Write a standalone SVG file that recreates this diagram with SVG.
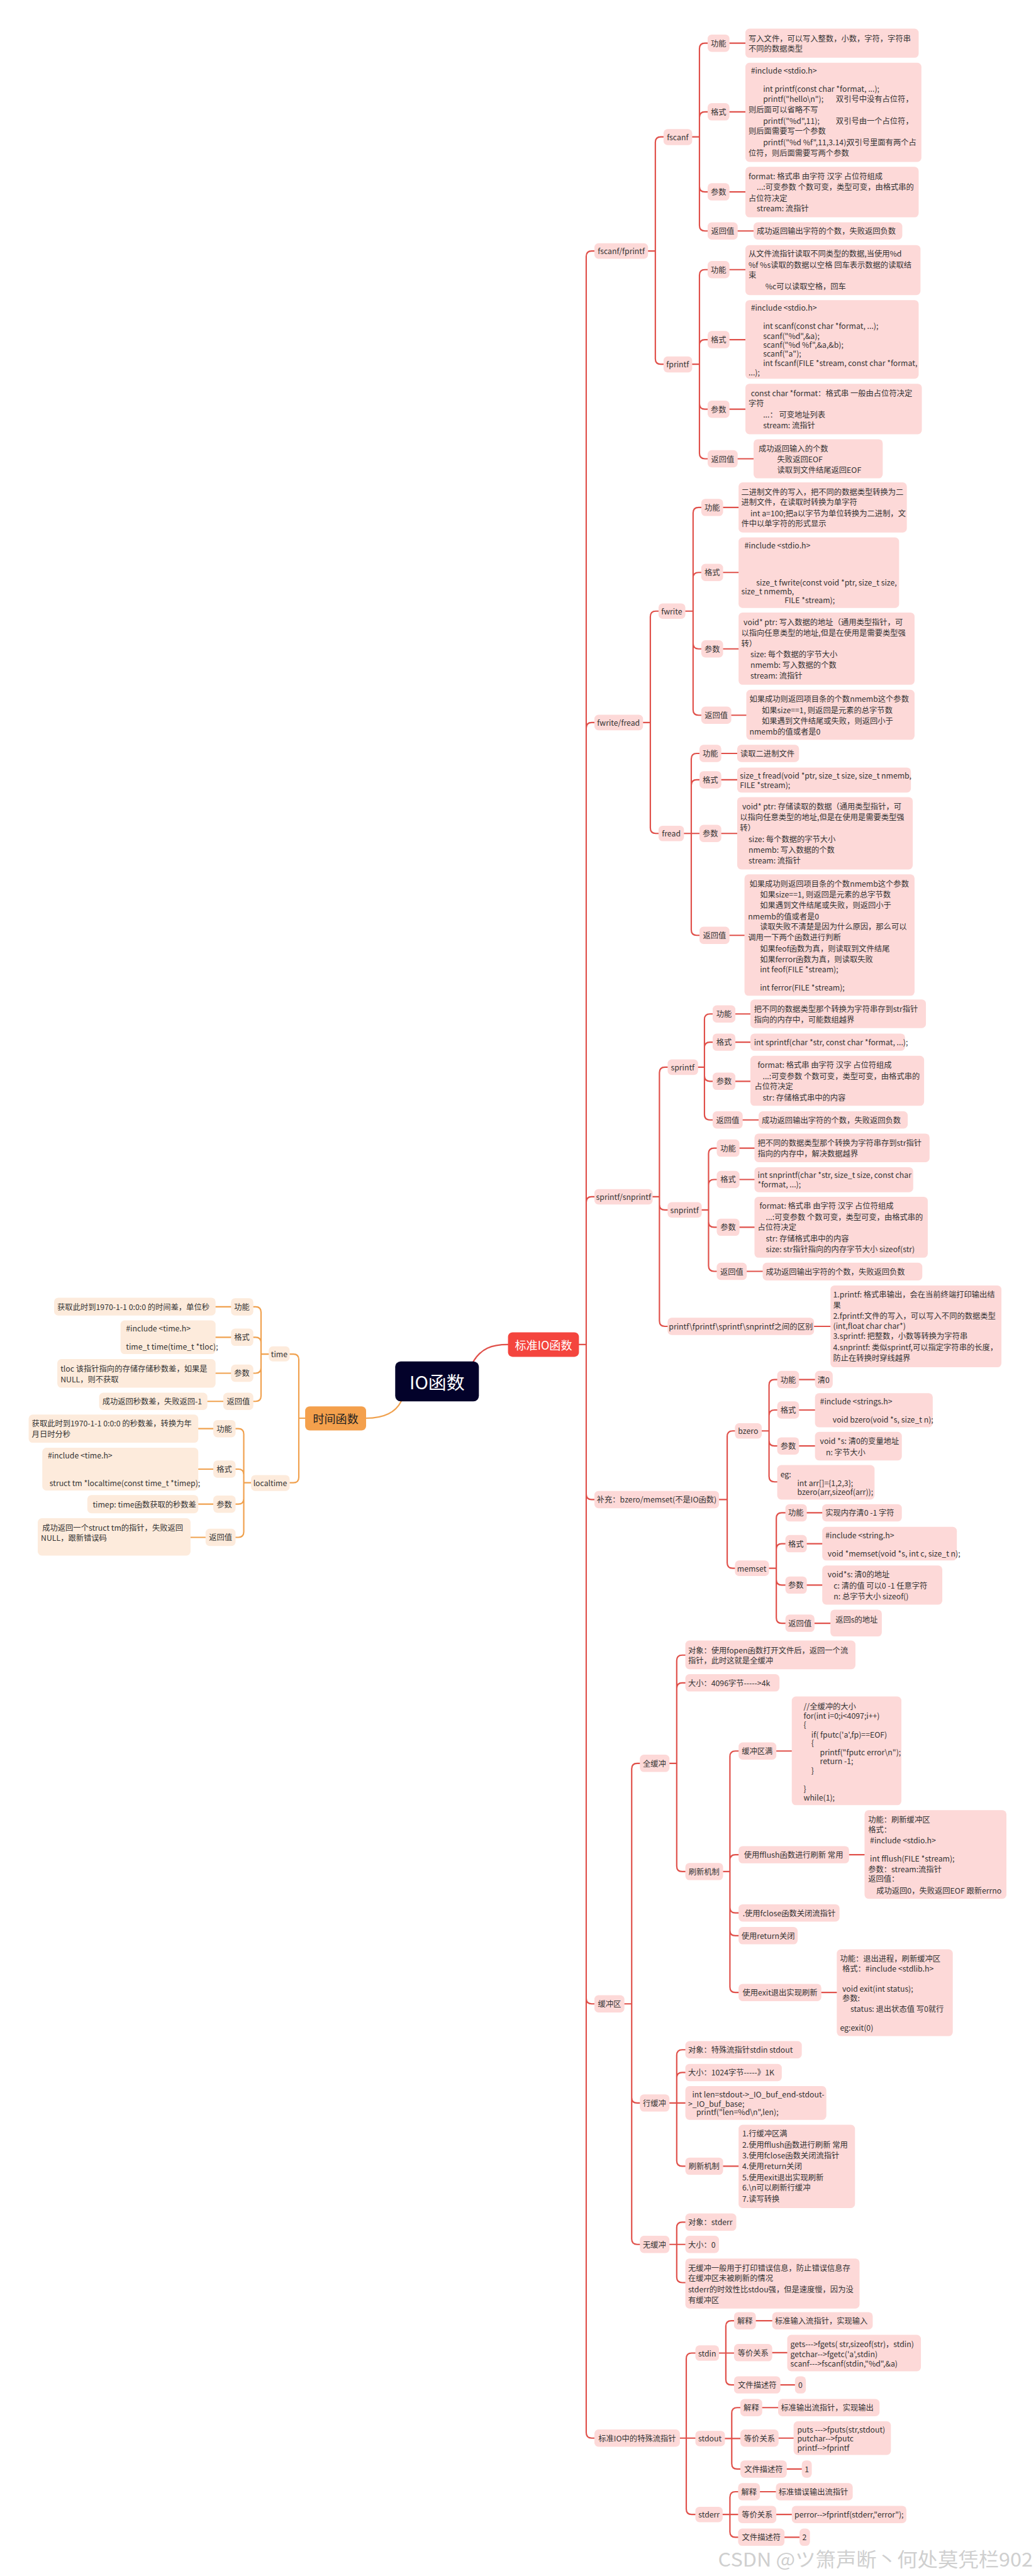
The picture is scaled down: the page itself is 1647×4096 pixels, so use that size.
<svg xmlns="http://www.w3.org/2000/svg" width="1647" height="4096" viewBox="0 0 1647 4096" xml:space="preserve">
<style>
text{font-family:"Noto Sans CJK SC","Liberation Sans",sans-serif;font-size:17px;fill:#333;dominant-baseline:central}
.m{text-anchor:middle}
.b{fill:#fdd9d8}
.p{fill:#fdebdc}
.c{fill:none;stroke:#e0504a;stroke-width:3;stroke-linecap:round}
.o{fill:none;stroke:#f0a14e;stroke-width:3;stroke-linecap:round}
.w{fill:#fff}
</style>
<rect width="1647" height="4096" fill="#fff"/>
<g transform="scale(0.723)">
<g id="connectors">
<path class="c" d="M1041,2994C1058,2966 1080,2957 1117,2957"/>
<path class="o" d="M882,3082C870,3106 845,3119 805,3119"/>
<path class="c" d="M1273,2957H1289M1289,2957V564Q1289,552 1301,552H1307M1289,2957V1601Q1289,1589 1301,1589H1307M1289,2957V2644Q1289,2632 1301,2632H1307M1289,2957V3286Q1289,3298 1301,3298H1307M1289,2957V4395Q1289,4407 1301,4407H1307M1289,2957V5350Q1289,5362 1301,5362H1307"/>
<path class="c" d="M1425,552H1441M1441,552V313Q1441,301 1453,301H1459M1441,552V789Q1441,801 1453,801H1459"/>
<path class="c" d="M1522,301H1538M1538,301V107Q1538,95 1550,95H1556M1538,301V258Q1538,246 1550,246H1556M1538,301V410Q1538,422 1550,422H1556M1538,301V496Q1538,508 1550,508H1556M1604,95H1639M1604,246H1639M1604,422H1639M1622,508H1657"/>
<path class="c" d="M1522,801H1538M1538,801V605Q1538,593 1550,593H1556M1538,801V759Q1538,747 1550,747H1556M1538,801V888Q1538,900 1550,900H1556M1538,801V997Q1538,1009 1550,1009H1556M1604,593H1639M1604,747H1639M1604,900H1639M1622,1009H1657"/>
<path class="c" d="M1414,1589H1430M1430,1589V1356Q1430,1344 1442,1344H1448M1430,1589V1821Q1430,1833 1442,1833H1448"/>
<path class="c" d="M1507,1344H1524M1524,1344V1128Q1524,1116 1536,1116H1542M1524,1344V1271Q1524,1259 1536,1259H1542M1524,1344V1415Q1524,1427 1536,1427H1542M1524,1344V1561Q1524,1573 1536,1573H1542M1590,1116H1624M1590,1259H1624M1590,1427H1624M1608,1573H1641"/>
<path class="c" d="M1504,1833H1520M1520,1833V1669Q1520,1657 1532,1657H1538M1520,1833V1727Q1520,1715 1532,1715H1538M1520,1833H1538M1520,1833V2045Q1520,2057 1532,2057H1538M1586,1657H1621M1586,1715H1621M1586,1833H1621M1604,2057H1637"/>
<path class="c" d="M1435,2632H1450M1450,2632V2359Q1450,2347 1462,2347H1468M1450,2632V2649Q1450,2661 1462,2661H1468M1450,2632V2905Q1450,2917 1462,2917H1468M1790,2917H1826"/>
<path class="c" d="M1535,2347H1549M1549,2347V2242Q1549,2230 1561,2230H1567M1549,2347V2304Q1549,2292 1561,2292H1567M1549,2347V2366Q1549,2378 1561,2378H1567M1549,2347V2451Q1549,2463 1561,2463H1567M1617,2230H1650M1617,2292H1650M1617,2378H1650M1633,2463H1668"/>
<path class="c" d="M1543,2661H1558M1558,2661V2537Q1558,2525 1570,2525H1576M1558,2661V2606Q1558,2594 1570,2594H1576M1558,2661V2687Q1558,2699 1570,2699H1576M1558,2661V2784Q1558,2796 1570,2796H1576M1626,2525H1659M1626,2594H1659M1626,2699H1659M1642,2796H1677"/>
<path class="c" d="M1581,3298H1599M1599,3298V3159Q1599,3147 1611,3147H1616M1599,3298V3437Q1599,3449 1611,3449H1616"/>
<path class="c" d="M1675,3147H1691M1691,3147V3046Q1691,3034 1703,3034H1709M1691,3147V3113Q1691,3101 1703,3101H1709M1691,3147V3168Q1691,3180 1703,3180H1709M1691,3147V3247Q1691,3259 1703,3259H1709M1757,3034H1792M1757,3101H1792M1757,3180H1792"/>
<path class="c" d="M1691,3449H1707M1707,3449V3339Q1707,3327 1719,3327H1727M1707,3449V3407Q1707,3395 1719,3395H1727M1707,3449V3474Q1707,3486 1719,3486H1727M1707,3449V3558Q1707,3570 1719,3570H1727M1774,3327H1808M1774,3395H1808M1774,3486H1808M1791,3570H1826"/>
<path class="c" d="M1373,4407H1389M1389,4407V3890Q1389,3878 1401,3878H1407M1389,4407V4613Q1389,4625 1401,4625H1407M1389,4407V4924Q1389,4936 1401,4936H1407"/>
<path class="c" d="M1472,3878H1488M1488,3878V3652Q1488,3640 1500,3640H1507M1488,3878V3713Q1488,3701 1500,3701H1507M1488,3878V4104Q1488,4116 1500,4116H1507"/>
<path class="c" d="M1590,4116H1605M1605,4116V3863Q1605,3851 1617,3851H1624M1605,4116V4091Q1605,4079 1617,4079H1624M1605,4116V4195Q1605,4207 1617,4207H1624M1605,4116V4245Q1605,4257 1617,4257H1624M1605,4116V4370Q1605,4382 1617,4382H1624M1707,3851H1741M1867,4079H1901M1806,4382H1840"/>
<path class="c" d="M1472,4625H1488M1488,4625V4520Q1488,4508 1500,4508H1507M1488,4625V4570Q1488,4558 1500,4558H1507M1488,4625H1507M1488,4625V4752Q1488,4764 1500,4764H1507M1590,4764H1624"/>
<path class="c" d="M1472,4936H1488M1488,4936V4899Q1488,4887 1500,4887H1507M1488,4936H1507M1488,4936V5008Q1488,5020 1500,5020H1507"/>
<path class="c" d="M1495,5362H1509M1509,5362V5187Q1509,5175 1521,5175H1529M1509,5362H1529M1509,5362V5518Q1509,5530 1521,5530H1529"/>
<path class="c" d="M1581,5175H1596M1596,5175V5116Q1596,5104 1608,5104H1614M1596,5175H1614M1596,5175V5233Q1596,5245 1608,5245H1614M1662,5104H1698M1698,5174H1731M1716,5245H1748"/>
<path class="c" d="M1594,5363H1609M1609,5363V5307Q1609,5295 1621,5295H1628M1609,5363H1628M1609,5363V5418Q1609,5430 1621,5430H1628M1676,5295H1711M1712,5362H1745M1730,5430H1763"/>
<path class="c" d="M1589,5530H1605M1605,5530V5492Q1605,5480 1617,5480H1623M1605,5530H1623M1605,5530V5568Q1605,5580 1617,5580H1623M1671,5480H1706M1707,5530H1741M1725,5580H1758"/>
<path class="o" d="M671,3119H657M657,3119V2990Q657,2978 645,2978H637M657,3119V3249Q657,3261 645,3261H637"/>
<path class="o" d="M591,2978H574M574,2978V2886Q574,2874 562,2874H557M574,2978V2953Q574,2941 562,2941H557M574,2978V3008Q574,3020 562,3020H557M574,2978V3070Q574,3082 562,3082H557M508,2874H474M508,2941H474M508,3020H474M491,3082H456"/>
<path class="o" d="M552,3261H536M536,3261V3154Q536,3142 524,3142H518M536,3261V3243Q536,3231 524,3231H518M536,3261V3296Q536,3308 524,3308H518M536,3261V3369Q536,3381 524,3381H518M469,3142H436M469,3231H436M469,3308H436M452,3381H419"/>
</g>

<g id="root"><rect x="869" y="2994" width="184" height="88" rx="12" fill="#03022a"/><text class="m w" x="961" y="3038" style="font-size:40px;fill:#fff">IO函数</text></g>
<g id="std-io"><rect x="1117" y="2930" width="156" height="54" rx="10" fill="#f4453e"/><text class="m" x="1195" y="2957" style="font-size:25px;fill:#fff">标准IO函数</text></g>
<g id="time-func"><rect x="671" y="3093" width="134" height="53" rx="10" fill="#f4a04c"/><text class="m" x="738" y="3119" style="font-size:25px;fill:#222">时间函数</text></g>

<g id="fscanf-fprintf"><rect class="b" x="1307" y="535" width="118" height="34" rx="9"/><text class="m" x="1366" y="552">fscanf/fprintf</text></g>
<g id="fscanf"><rect class="b" x="1459" y="284" width="63" height="35" rx="9"/><text class="m" x="1490" y="301">fscanf</text></g>
<g id="fscanf-func"><rect class="b" x="1556" y="76" width="48" height="38" rx="9"/><text class="m" x="1580" y="95">功能</text><rect class="b" x="1639" y="63" width="381" height="64" rx="9"/><text x="1646" y="84">写入文件，可以写入整数，小数，字符，字符串</text><text x="1646" y="107">不同的数据类型</text></g>
<g id="fscanf-fmt"><rect class="b" x="1556" y="227" width="48" height="38" rx="9"/><text class="m" x="1580" y="246">格式</text><rect class="b" x="1639" y="138" width="387" height="218" rx="9"/><text x="1651" y="155">#include &lt;stdio.h&gt;</text><text x="1678" y="195">int printf(const char *format, ...);</text><text x="1678" y="217">printf("hello\n");</text><text x="1838" y="217">双引号中没有占位符，</text><text x="1646" y="241">则后面可以省略不写</text><text x="1678" y="265">printf("%d",11);</text><text x="1838" y="265">双引号由一个占位符，</text><text x="1646" y="288">则后面需要写一个参数</text><text x="1678" y="312">printf("%d %f",11,3.14);</text><text x="1862" y="312">双引号里面有两个占</text><text x="1646" y="336">位符，则后面需要写两个参数</text></g>
<g id="fscanf-param"><rect class="b" x="1556" y="403" width="48" height="38" rx="9"/><text class="m" x="1580" y="422">参数</text><rect class="b" x="1639" y="367" width="381" height="111" rx="9"/><text x="1646" y="387">format: 格式串 由字符 汉字 占位符组成</text><text x="1664" y="411">...:可变参数 个数可变，类型可变，由格式串的</text><text x="1646" y="435">占位符决定</text><text x="1664" y="458">stream: 流指针</text></g>
<g id="fscanf-ret"><rect class="b" x="1556" y="489" width="66" height="38" rx="9"/><text class="m" x="1589" y="508">返回值</text><rect class="b" x="1657" y="489" width="327" height="38" rx="9"/><text x="1664" y="508">成功返回输出字符的个数，失败返回负数</text></g>

<g id="fprintf"><rect class="b" x="1459" y="784" width="63" height="35" rx="9"/><text class="m" x="1490" y="801">fprintf</text></g>
<g id="fprintf-func"><rect class="b" x="1556" y="574" width="48" height="38" rx="9"/><text class="m" x="1580" y="593">功能</text><rect class="b" x="1639" y="539" width="385" height="110" rx="9"/><text x="1646" y="558">从文件流指针读取不同类型的数据,当使用%d</text><text x="1646" y="582">%f %s读取的数据以空格 回车表示数据的读取结</text><text x="1646" y="605">束</text><text x="1683" y="629">%c可以读取空格，回车</text></g>
<g id="fprintf-fmt"><rect class="b" x="1556" y="728" width="48" height="38" rx="9"/><text class="m" x="1580" y="747">格式</text><rect class="b" x="1639" y="660" width="381" height="173" rx="9"/><text x="1651" y="677">#include &lt;stdio.h&gt;</text><text x="1678" y="717">int scanf(const char *format, ...);</text><text x="1678" y="738">scanf("%d",&amp;a);</text><text x="1678" y="758">scanf("%d %f",&amp;a,&amp;b);</text><text x="1678" y="777">scanf("a");</text><text x="1678" y="798">int fscanf(FILE *stream, const char *format,</text><text x="1646" y="819">...);</text></g>
<g id="fprintf-param"><rect class="b" x="1556" y="881" width="48" height="38" rx="9"/><text class="m" x="1580" y="900">参数</text><rect class="b" x="1639" y="844" width="388" height="111" rx="9"/><text x="1651" y="865">const char *format：格式串  一般由占位符决定</text><text x="1646" y="887">字符</text><text x="1678" y="912">...：  可变地址列表</text><text x="1678" y="935">stream: 流指针</text></g>
<g id="fprintf-ret"><rect class="b" x="1556" y="990" width="66" height="38" rx="9"/><text class="m" x="1589" y="1009">返回值</text><rect class="b" x="1657" y="966" width="284" height="86" rx="9"/><text x="1668" y="986">成功返回输入的个数</text><text x="1709" y="1010">失败返回EOF</text><text x="1709" y="1033">读取到文件结尾返回EOF</text></g>

<g id="fwrite-fread"><rect class="b" x="1307" y="1572" width="107" height="34" rx="9"/><text class="m" x="1360" y="1589">fwrite/fread</text></g>
<g id="fwrite"><rect class="b" x="1448" y="1327" width="59" height="34" rx="9"/><text class="m" x="1477" y="1344">fwrite</text></g>
<g id="fwrite-func"><rect class="b" x="1542" y="1097" width="48" height="38" rx="9"/><text class="m" x="1566" y="1116">功能</text><rect class="b" x="1624" y="1061" width="370" height="110" rx="9"/><text x="1630" y="1081">二进制文件的写入，把不同的数据类型转换为二</text><text x="1630" y="1104">进制文件，在读取时转换为单字符</text><text x="1650" y="1128">int a=100;把a以字节为单位转换为二进制，文</text><text x="1630" y="1151">件中以单字符的形式显示</text></g>
<g id="fwrite-fmt"><rect class="b" x="1542" y="1240" width="48" height="38" rx="9"/><text class="m" x="1566" y="1259">格式</text><rect class="b" x="1624" y="1182" width="353" height="155" rx="9"/><text x="1637" y="1199">#include &lt;stdio.h&gt;</text><text x="1663" y="1281">size_t fwrite(const void *ptr, size_t size,</text><text x="1630" y="1300">size_t nmemb,</text><text x="1725" y="1320">FILE *stream);</text></g>
<g id="fwrite-param"><rect class="b" x="1542" y="1408" width="48" height="38" rx="9"/><text class="m" x="1566" y="1427">参数</text><rect class="b" x="1624" y="1347" width="387" height="159" rx="9"/><text x="1635" y="1368">void* ptr: 写入数据的地址（通用类型指针，可</text><text x="1630" y="1392">以指向任意类型的地址,但是在使用是需要类型强</text><text x="1630" y="1415">转）</text><text x="1650" y="1439">size: 每个数据的字节大小</text><text x="1650" y="1462">nmemb: 写入数据的个数</text><text x="1650" y="1486">stream: 流指针</text></g>
<g id="fwrite-ret"><rect class="b" x="1542" y="1554" width="66" height="38" rx="9"/><text class="m" x="1575" y="1573">返回值</text><rect class="b" x="1641" y="1517" width="370" height="110" rx="9"/><text x="1648" y="1537">如果成功则返回项目条的个数nmemb这个参数</text><text x="1675" y="1561">如果size==1, 则返回是元素的总字节数</text><text x="1675" y="1585">如果遇到文件结尾或失败，则返回小于</text><text x="1648" y="1609">nmemb的值或者是0</text></g>

<g id="fread"><rect class="b" x="1448" y="1816" width="56" height="34" rx="9"/><text class="m" x="1476" y="1833">fread</text></g>
<g id="fread-func"><rect class="b" x="1538" y="1638" width="48" height="38" rx="9"/><text class="m" x="1562" y="1657">功能</text><rect class="b" x="1621" y="1638" width="136" height="38" rx="9"/><text x="1628" y="1657">读取二进制文件</text></g>
<g id="fread-fmt"><rect class="b" x="1538" y="1696" width="48" height="38" rx="9"/><text class="m" x="1562" y="1715">格式</text><rect class="b" x="1621" y="1688" width="382" height="55" rx="9"/><text x="1627" y="1705">size_t fread(void *ptr, size_t size, size_t nmemb,</text><text x="1627" y="1726">FILE *stream);</text></g>
<g id="fread-param"><rect class="b" x="1538" y="1814" width="48" height="38" rx="9"/><text class="m" x="1562" y="1833">参数</text><rect class="b" x="1621" y="1753" width="386" height="159" rx="9"/><text x="1632" y="1773">void* ptr: 存储读取的数据（通用类型指针，可</text><text x="1627" y="1796">以指向任意类型的地址,但是在使用是需要类型强</text><text x="1627" y="1820">转）</text><text x="1646" y="1845">size: 每个数据的字节大小</text><text x="1646" y="1868">nmemb: 写入数据的个数</text><text x="1646" y="1892">stream: 流指针</text></g>
<g id="fread-ret"><rect class="b" x="1538" y="2038" width="66" height="38" rx="9"/><text class="m" x="1571" y="2057">返回值</text><rect class="b" x="1637" y="1923" width="374" height="267" rx="9"/><text x="1648" y="1943">如果成功则返回项目条的个数nmemb这个参数</text><text x="1671" y="1967">如果size==1, 则返回是元素的总字节数</text><text x="1671" y="1991">如果遇到文件结尾或失败，则返回小于</text><text x="1645" y="2015">nmemb的值或者是0</text><text x="1671" y="2038">读取失败不清楚是因为什么原因，那么可以</text><text x="1645" y="2061">调用一下两个函数进行判断</text><text x="1671" y="2086">如果feof函数为真，则读取到文件结尾</text><text x="1671" y="2109">如果ferror函数为真，则读取失败</text><text x="1671" y="2131">int feof(FILE *stream);</text><text x="1671" y="2171">int ferror(FILE *stream);</text></g>

<g id="sprintf-snprintf"><rect class="b" x="1307" y="2615" width="128" height="34" rx="9"/><text class="m" x="1371" y="2632">sprintf/snprintf</text></g>
<g id="sprintf"><rect class="b" x="1468" y="2330" width="67" height="34" rx="9"/><text class="m" x="1501" y="2347">sprintf</text></g>
<g id="sprintf-func"><rect class="b" x="1567" y="2211" width="50" height="38" rx="9"/><text class="m" x="1592" y="2230">功能</text><rect class="b" x="1650" y="2198" width="386" height="63" rx="9"/><text x="1658" y="2218">把不同的数据类型那个转换为字符串存到str指针</text><text x="1658" y="2242">指向的内存中，可能数组越界</text></g>
<g id="sprintf-fmt"><rect class="b" x="1567" y="2273" width="50" height="38" rx="9"/><text class="m" x="1592" y="2292">格式</text><rect class="b" x="1650" y="2273" width="340" height="38" rx="9"/><text x="1658" y="2292">int sprintf(char *str, const char *format, ...);</text></g>
<g id="sprintf-param"><rect class="b" x="1567" y="2359" width="50" height="38" rx="9"/><text class="m" x="1592" y="2378">参数</text><rect class="b" x="1650" y="2322" width="382" height="110" rx="9"/><text x="1666" y="2342">format: 格式串 由字符 汉字 占位符组成</text><text x="1677" y="2366">...:可变参数 个数可变，类型可变，由格式串的</text><text x="1659" y="2389">占位符决定</text><text x="1677" y="2413">str: 存储格式串中的内容</text></g>
<g id="sprintf-ret"><rect class="b" x="1567" y="2444" width="66" height="38" rx="9"/><text class="m" x="1600" y="2463">返回值</text><rect class="b" x="1668" y="2444" width="328" height="38" rx="9"/><text x="1675" y="2463">成功返回输出字符的个数，失败返回负数</text></g>

<g id="snprintf"><rect class="b" x="1468" y="2644" width="75" height="34" rx="9"/><text class="m" x="1505" y="2661">snprintf</text></g>
<g id="snprintf-func"><rect class="b" x="1576" y="2506" width="50" height="38" rx="9"/><text class="m" x="1601" y="2525">功能</text><rect class="b" x="1659" y="2493" width="385" height="63" rx="9"/><text x="1666" y="2513">把不同的数据类型那个转换为字符串存到str指针</text><text x="1666" y="2536">指向的内存中，解决数据越界</text></g>
<g id="snprintf-fmt"><rect class="b" x="1576" y="2575" width="50" height="38" rx="9"/><text class="m" x="1601" y="2594">格式</text><rect class="b" x="1659" y="2567" width="349" height="55" rx="9"/><text x="1666" y="2584">int snprintf(char *str, size_t size, const char</text><text x="1666" y="2604">*format, ...);</text></g>
<g id="snprintf-param"><rect class="b" x="1576" y="2680" width="50" height="38" rx="9"/><text class="m" x="1601" y="2699">参数</text><rect class="b" x="1659" y="2632" width="381" height="134" rx="9"/><text x="1670" y="2652">format: 格式串 由字符 汉字 占位符组成</text><text x="1684" y="2676">...:可变参数 个数可变，类型可变，由格式串的</text><text x="1666" y="2699">占位符决定</text><text x="1684" y="2724">str: 存储格式串中的内容</text><text x="1684" y="2747">size:  str指针指向的内存字节大小   sizeof(str)</text></g>
<g id="snprintf-ret"><rect class="b" x="1576" y="2777" width="66" height="38" rx="9"/><text class="m" x="1609" y="2796">返回值</text><rect class="b" x="1677" y="2777" width="351" height="39" rx="9"/><text x="1684" y="2796">成功返回输出字符的个数，失败返回负数</text></g>
<g id="printf-diff"><rect class="b" x="1468" y="2898" width="322" height="38" rx="9"/><text class="m" x="1629" y="2917">printf\fprintf\sprintf\snprintf之间的区别</text><rect class="b" x="1826" y="2827" width="376" height="180" rx="9"/><text x="1832" y="2847">1.printf: 格式串输出，会在当前终端打印输出结</text><text x="1832" y="2870">果</text><text x="1832" y="2893">2.fprintf:文件的写入，可以写入不同的数据类型</text><text x="1832" y="2916">(int,float char char*)</text><text x="1832" y="2938">3.sprintf: 把整数，小数等转换为字符串</text><text x="1832" y="2962">4.snprintf: 类似sprintf,可以指定字符串的长度，</text><text x="1832" y="2986">防止在转换时穿线越界</text></g>

<g id="bzero-memset"><rect class="b" x="1307" y="3279" width="274" height="38" rx="9"/><text class="m" x="1444" y="3298">补充：bzero/memset(不是IO函数)</text></g>
<g id="bzero"><rect class="b" x="1616" y="3130" width="59" height="34" rx="9"/><text class="m" x="1645" y="3147">bzero</text></g>
<g id="bzero-func"><rect class="b" x="1709" y="3015" width="48" height="38" rx="9"/><text class="m" x="1733" y="3034">功能</text><rect class="b" x="1792" y="3015" width="39" height="38" rx="9"/><text class="m" x="1811" y="3034">清0</text></g>
<g id="bzero-fmt"><rect class="b" x="1709" y="3082" width="48" height="38" rx="9"/><text class="m" x="1733" y="3101">格式</text><rect class="b" x="1792" y="3064" width="259" height="75" rx="9"/><text x="1803" y="3082">#include &lt;strings.h&gt;</text><text x="1831" y="3122">void bzero(void *s, size_t n);</text></g>
<g id="bzero-param"><rect class="b" x="1709" y="3161" width="48" height="38" rx="9"/><text class="m" x="1733" y="3180">参数</text><rect class="b" x="1792" y="3149" width="191" height="63" rx="9"/><text x="1803" y="3169">void *s: 清0的变量地址</text><text x="1816" y="3193">n:  字节大小</text></g>
<g id="bzero-eg"><rect class="b" x="1709" y="3222" width="214" height="76" rx="9"/><text x="1716" y="3242">eg:</text><text x="1753" y="3261">int arr[]={1,2,3};</text><text x="1753" y="3281">bzero(arr,sizeof(arr));</text></g>
<g id="memset"><rect class="b" x="1616" y="3432" width="75" height="34" rx="9"/><text class="m" x="1653" y="3449">memset</text></g>
<g id="memset-func"><rect class="b" x="1727" y="3308" width="47" height="38" rx="9"/><text class="m" x="1750" y="3327">功能</text><rect class="b" x="1808" y="3308" width="175" height="38" rx="9"/><text x="1815" y="3327">实现内存清0 -1 字符</text></g>
<g id="memset-fmt"><rect class="b" x="1727" y="3376" width="47" height="38" rx="9"/><text class="m" x="1750" y="3395">格式</text><rect class="b" x="1808" y="3358" width="296" height="74" rx="9"/><text x="1815" y="3376">#include &lt;string.h&gt;</text><text x="1820" y="3416">void *memset(void *s, int c, size_t n);</text></g>
<g id="memset-param"><rect class="b" x="1727" y="3467" width="47" height="38" rx="9"/><text class="m" x="1750" y="3486">参数</text><rect class="b" x="1808" y="3443" width="264" height="86" rx="9"/><text x="1820" y="3462">void*s: 清0的地址</text><text x="1833" y="3487">c:  清的值 可以0  -1  任意字符</text><text x="1833" y="3511">n: 总字节大小   sizeof()</text></g>
<g id="memset-ret"><rect class="b" x="1727" y="3551" width="64" height="38" rx="9"/><text class="m" x="1759" y="3570">返回值</text><rect class="b" x="1826" y="3540" width="113" height="59" rx="9"/><text x="1837" y="3561">返回s的地址</text></g>

<g id="buffer"><rect class="b" x="1307" y="4388" width="66" height="38" rx="9"/><text class="m" x="1340" y="4407">缓冲区</text></g>
<g id="full-buf"><rect class="b" x="1407" y="3859" width="65" height="38" rx="9"/><text class="m" x="1439" y="3878">全缓冲</text></g>
<g id="full-obj"><rect class="b" x="1507" y="3608" width="374" height="63" rx="9"/><text x="1513" y="3629">对象：使用fopen函数打开文件后，返回一个流</text><text x="1513" y="3652">指针，此时这就是全缓冲</text></g>
<g id="full-size"><rect class="b" x="1507" y="3682" width="207" height="38" rx="9"/><text x="1513" y="3701">大小：4096字节-----&gt;4k</text></g>
<g id="full-flush"><rect class="b" x="1507" y="4097" width="83" height="38" rx="9"/><text class="m" x="1548" y="4116">刷新机制</text></g>
<g id="full-flush-1"><rect class="b" x="1624" y="3832" width="83" height="38" rx="9"/><text class="m" x="1665" y="3851">缓冲区满</text><rect class="b" x="1741" y="3731" width="241" height="239" rx="9"/><text x="1767" y="3752">//全缓冲的大小</text><text x="1767" y="3773">for(int i=0;i&lt;4097;i++)</text><text x="1767" y="3793">{</text><text x="1784" y="3814">if( fputc('a',fp)==EOF)</text><text x="1784" y="3833">{</text><text x="1803" y="3853">printf("fputc error\n");</text><text x="1803" y="3873">return -1;</text><text x="1784" y="3893">}</text><text x="1767" y="3933">}</text><text x="1767" y="3953">while(1);</text></g>
<g id="full-flush-2"><rect class="b" x="1624" y="4060" width="243" height="38" rx="9"/><text class="m" x="1745" y="4079">使用fflush函数进行刷新  常用</text><rect class="b" x="1901" y="3981" width="312" height="195" rx="9"/><text x="1909" y="4002">功能：刷新缓冲区</text><text x="1909" y="4024">格式：</text><text x="1913" y="4047">#include &lt;stdio.h&gt;</text><text x="1913" y="4087">int fflush(FILE *stream);</text><text x="1909" y="4110">参数：stream:流指针</text><text x="1909" y="4132">返回值：</text><text x="1927" y="4157">成功返回0，失败返回EOF 跟新errno</text></g>
<g id="full-flush-3"><rect class="b" x="1624" y="4188" width="222" height="38" rx="9"/><text class="m" x="1735" y="4207">.使用fclose函数关闭流指针</text></g>
<g id="full-flush-4"><rect class="b" x="1624" y="4238" width="130" height="38" rx="9"/><text class="m" x="1689" y="4257">使用return关闭</text></g>
<g id="full-flush-5"><rect class="b" x="1624" y="4363" width="182" height="38" rx="9"/><text class="m" x="1715" y="4382">使用exit退出实现刷新</text><rect class="b" x="1840" y="4287" width="255" height="191" rx="9"/><text x="1847" y="4307">功能：退出进程，刷新缓冲区</text><text x="1852" y="4329">格式：#include &lt;stdlib.h&gt;</text><text x="1852" y="4373">void exit(int status);</text><text x="1852" y="4394">参数:</text><text x="1870" y="4418">status: 退出状态值  写0就行</text><text x="1847" y="4459">eg:exit(0)</text></g>

<g id="line-buf"><rect class="b" x="1407" y="4606" width="65" height="38" rx="9"/><text class="m" x="1439" y="4625">行缓冲</text></g>
<g id="line-obj"><rect class="b" x="1507" y="4489" width="256" height="38" rx="9"/><text x="1513" y="4508">对象：特殊流指针stdin   stdout</text></g>
<g id="line-size"><rect class="b" x="1507" y="4539" width="212" height="38" rx="9"/><text x="1513" y="4558">大小：1024字节-----》1K</text></g>
<g id="line-len"><rect class="b" x="1507" y="4588" width="310" height="74" rx="9"/><text x="1522" y="4606">int len=stdout-&gt;_IO_buf_end-stdout-</text><text x="1513" y="4626">&gt;_IO_buf_base;</text><text x="1531" y="4645">printf("len=%d\n",len);</text></g>
<g id="line-flush"><rect class="b" x="1507" y="4745" width="83" height="38" rx="9"/><text class="m" x="1548" y="4764">刷新机制</text><rect class="b" x="1624" y="4673" width="256" height="183" rx="9"/><text x="1632" y="4692">1.行缓冲区满</text><text x="1632" y="4716">2.使用fflush函数进行刷新  常用</text><text x="1632" y="4740">3.使用fclose函数关闭流指针</text><text x="1632" y="4764">4.使用return关闭</text><text x="1632" y="4788">5.使用exit退出实现刷新</text><text x="1632" y="4811">6.\n可以刷新行缓冲</text><text x="1632" y="4835">7.读写转换</text></g>

<g id="no-buf"><rect class="b" x="1407" y="4917" width="65" height="38" rx="9"/><text class="m" x="1439" y="4936">无缓冲</text></g>
<g id="no-obj"><rect class="b" x="1507" y="4868" width="112" height="38" rx="9"/><text x="1513" y="4887">对象：stderr</text></g>
<g id="no-size"><rect class="b" x="1507" y="4917" width="74" height="38" rx="9"/><text x="1513" y="4936">大小：0</text></g>
<g id="no-note"><rect class="b" x="1507" y="4967" width="383" height="110" rx="9"/><text x="1513" y="4987">无缓冲一般用于打印错误信息，防止错误信息存</text><text x="1513" y="5010">在缓冲区未被刷新的情况</text><text x="1513" y="5034">stderr的时效性比stdou强，但是速度慢，因为没</text><text x="1513" y="5058">有缓冲区</text></g>

<g id="special"><rect class="b" x="1307" y="5343" width="188" height="38" rx="9"/><text class="m" x="1401" y="5362">标准IO中的特殊流指针</text></g>
<g id="stdin"><rect class="b" x="1529" y="5158" width="52" height="34" rx="9"/><text class="m" x="1555" y="5175">stdin</text></g>
<g id="stdin-1"><rect class="b" x="1614" y="5085" width="48" height="38" rx="9"/><text class="m" x="1638" y="5104">解释</text><rect class="b" x="1698" y="5085" width="221" height="38" rx="9"/><text x="1704" y="5104">标准输入流指针，实现输入</text></g>
<g id="stdin-2"><rect class="b" x="1614" y="5155" width="84" height="38" rx="9"/><text class="m" x="1656" y="5174">等价关系</text><rect class="b" x="1731" y="5135" width="294" height="80" rx="9"/><text x="1738" y="5155">gets---&gt;fgets( str,sizeof(str)，stdin)</text><text x="1738" y="5177">getchar--&gt;fgetc('a',stdin)</text><text x="1738" y="5198">scanf---&gt;fscanf(stdin,"%d",&amp;a)</text></g>
<g id="stdin-3"><rect class="b" x="1614" y="5226" width="102" height="38" rx="9"/><text class="m" x="1665" y="5245">文件描述符</text><rect class="b" x="1748" y="5226" width="24" height="38" rx="9"/><text class="m" x="1760" y="5245">0</text></g>
<g id="stdout"><rect class="b" x="1529" y="5346" width="65" height="34" rx="9"/><text class="m" x="1561" y="5363">stdout</text></g>
<g id="stdout-1"><rect class="b" x="1628" y="5276" width="48" height="38" rx="9"/><text class="m" x="1652" y="5295">解释</text><rect class="b" x="1711" y="5276" width="223" height="38" rx="9"/><text x="1717" y="5295">标准输出流指针，实现输出</text></g>
<g id="stdout-2"><rect class="b" x="1628" y="5343" width="84" height="38" rx="9"/><text class="m" x="1670" y="5362">等价关系</text><rect class="b" x="1745" y="5325" width="214" height="74" rx="9"/><text x="1753" y="5343">puts ---&gt;fputs(str,stdout)</text><text x="1753" y="5363">putchar--&gt;fputc</text><text x="1753" y="5383">printf--&gt;fprintf</text></g>
<g id="stdout-3"><rect class="b" x="1628" y="5411" width="102" height="38" rx="9"/><text class="m" x="1679" y="5430">文件描述符</text><rect class="b" x="1763" y="5411" width="22" height="38" rx="9"/><text class="m" x="1774" y="5430">1</text></g>
<g id="stderr"><rect class="b" x="1529" y="5513" width="60" height="34" rx="9"/><text class="m" x="1559" y="5530">stderr</text></g>
<g id="stderr-1"><rect class="b" x="1623" y="5461" width="48" height="38" rx="9"/><text class="m" x="1647" y="5480">解释</text><rect class="b" x="1706" y="5461" width="169" height="38" rx="9"/><text x="1712" y="5480">标准错误输出流指针</text></g>
<g id="stderr-2"><rect class="b" x="1623" y="5511" width="84" height="38" rx="9"/><text class="m" x="1665" y="5530">等价关系</text><rect class="b" x="1741" y="5511" width="252" height="38" rx="9"/><text x="1747" y="5530">perror--&gt;fprintf(stderr,"error");</text></g>
<g id="stderr-3"><rect class="b" x="1623" y="5561" width="102" height="38" rx="9"/><text class="m" x="1674" y="5580">文件描述符</text><rect class="b" x="1758" y="5561" width="23" height="38" rx="9"/><text class="m" x="1769" y="5580">2</text></g>

<g id="time"><rect class="p" x="591" y="2961" width="46" height="33" rx="9"/><text class="m" x="614" y="2978">time</text></g>
<g id="time-func-1"><rect class="p" x="508" y="2855" width="49" height="38" rx="9"/><text class="m" x="532" y="2874">功能</text><rect class="p" x="119" y="2854" width="355" height="39" rx="9"/><text x="126" y="2874">获取此时到1970-1-1 0:0:0  的时间差，单位秒</text></g>
<g id="time-fmt"><rect class="p" x="508" y="2922" width="49" height="38" rx="9"/><text class="m" x="532" y="2941">格式</text><rect class="p" x="265" y="2904" width="209" height="74" rx="9"/><text x="277" y="2921">#include &lt;time.h&gt;</text><text x="277" y="2961">time_t time(time_t *tloc);</text></g>
<g id="time-param"><rect class="p" x="508" y="3001" width="49" height="38" rx="9"/><text class="m" x="532" y="3020">参数</text><rect class="p" x="126" y="2989" width="348" height="63" rx="9"/><text x="133" y="3009">tloc 该指针指向的存储存储秒数差，如果是</text><text x="133" y="3033">NULL，则不获取</text></g>
<g id="time-ret"><rect class="p" x="491" y="3063" width="66" height="38" rx="9"/><text class="m" x="524" y="3082">返回值</text><rect class="p" x="218" y="3063" width="238" height="38" rx="9"/><text x="225" y="3082">成功返回秒数差，失败返回-1</text></g>
<g id="localtime"><rect class="p" x="552" y="3244" width="85" height="35" rx="9"/><text class="m" x="594" y="3261">localtime</text></g>
<g id="lt-func"><rect class="p" x="469" y="3123" width="49" height="38" rx="9"/><text class="m" x="493" y="3142">功能</text><rect class="p" x="63" y="3111" width="373" height="62" rx="9"/><text x="70" y="3130">获取此时到1970-1-1 0:0:0  的秒数差，转换为年</text><text x="70" y="3153">月日时分秒</text></g>
<g id="lt-fmt"><rect class="p" x="469" y="3212" width="49" height="38" rx="9"/><text class="m" x="493" y="3231">格式</text><rect class="p" x="93" y="3184" width="343" height="94" rx="9"/><text x="105" y="3201">#include &lt;time.h&gt;</text><text x="109" y="3261">struct tm *localtime(const time_t *timep);</text></g>
<g id="lt-param"><rect class="p" x="469" y="3289" width="49" height="38" rx="9"/><text class="m" x="493" y="3308">参数</text><rect class="p" x="192" y="3288" width="244" height="40" rx="9"/><text x="204" y="3308">timep: time函数获取的秒数差</text></g>
<g id="lt-ret"><rect class="p" x="452" y="3362" width="66" height="38" rx="9"/><text class="m" x="485" y="3381">返回值</text><rect class="p" x="83" y="3339" width="336" height="82" rx="9"/><text x="93" y="3359">成功返回一个struct tm的指针，失败返回</text><text x="90" y="3382">NULL，跟新错误码</text></g>

<text x="1579" y="5626" textLength="692" lengthAdjust="spacingAndGlyphs" style="font-size:42px;fill:#cfcfcf">CSDN @ツ箫声断丶何处莫凭栏902</text>
</g>
</svg>
